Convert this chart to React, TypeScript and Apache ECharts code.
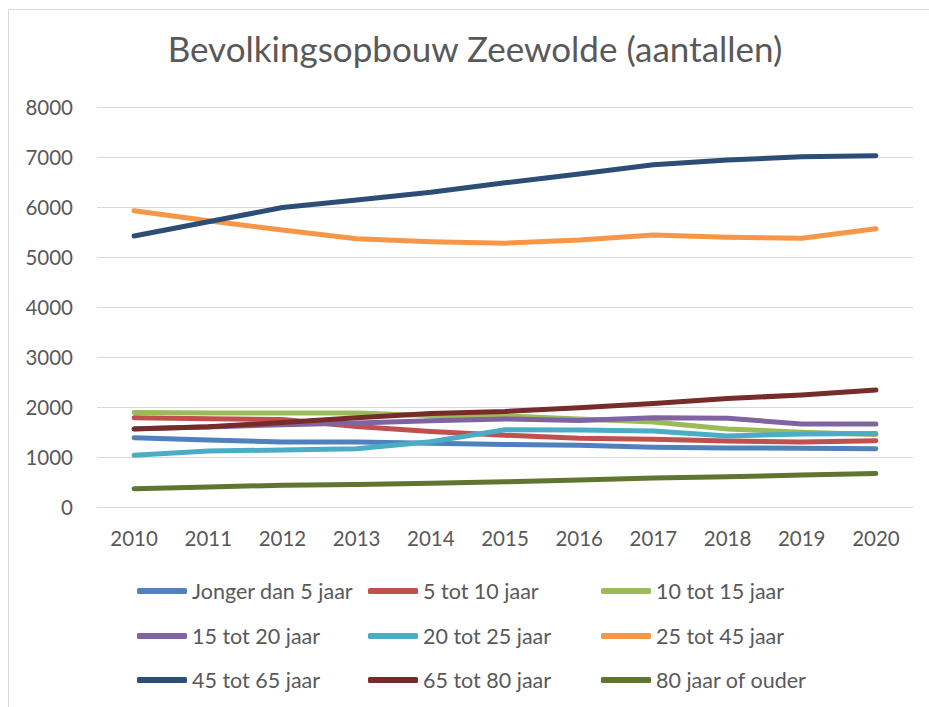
import React, { useEffect, useRef } from "react";
import * as echarts from "echarts";

const years = ["2010", "2011", "2012", "2013", "2014", "2015", "2016", "2017", "2018", "2019", "2020"];
const jongerDan5 = [1385, 1340, 1300, 1300, 1275, 1250, 1235, 1195, 1180, 1175, 1165];
const tot10 = [1785, 1765, 1750, 1610, 1510, 1435, 1375, 1355, 1320, 1300, 1325];
const tot15 = [1890, 1880, 1880, 1880, 1830, 1820, 1760, 1700, 1560, 1495, 1450];
const tot20 = [1565, 1600, 1645, 1680, 1725, 1760, 1730, 1785, 1775, 1660, 1660];
const tot25 = [1035, 1120, 1140, 1165, 1305, 1545, 1540, 1520, 1420, 1460, 1470];
const tot45 = [5925, 5725, 5540, 5365, 5305, 5275, 5340, 5440, 5395, 5375, 5565];
const tot65 = [5420, 5705, 5990, 6140, 6295, 6485, 6660, 6845, 6940, 7005, 7025];
const tot80 = [1560, 1605, 1690, 1785, 1870, 1910, 1985, 2070, 2170, 2240, 2340];
const ouder80 = [365, 400, 435, 450, 475, 505, 540, 580, 605, 640, 670];

const seriesNames = [
  "Jonger dan 5 jaar",
  "5 tot 10 jaar",
  "10 tot 15 jaar",
  "15 tot 20 jaar",
  "20 tot 25 jaar",
  "25 tot 45 jaar",
  "45 tot 65 jaar",
  "65 tot 80 jaar",
  "80 jaar of ouder",
];
const seriesData = [jongerDan5, tot10, tot15, tot20, tot25, tot45, tot65, tot80, ouder80];
const colors = ["#4F81BD", "#C0504D", "#9BBB59", "#8064A2", "#4BACC6", "#F79646", "#2C4D75", "#772C2A", "#5F7530"];
const yTicks = [0, 1000, 2000, 3000, 4000, 5000, 6000, 7000, 8000];

export default function App() {
  const ref = useRef<HTMLDivElement>(null);
  useEffect(() => {
    if (!ref.current) return;
    const chart = echarts.init(ref.current, null, { renderer: "svg" });
    const colLeft = [137, 368, 601];
    const rowMid = [591, 636, 680];
    const legends = seriesNames.map((name, i) => ({
      data: [name],
      left: colLeft[i % 3],
      top: rowMid[Math.floor(i / 3)] - 12,
      padding: 0,
      icon: "roundRect",
      itemWidth: 50,
      itemHeight: 6,
      selectedMode: false,
      textStyle: { fontFamily: "Lato", fontSize: 21.5, color: "#595959", lineHeight: 24 },
    }));
    chart.setOption({
      animation: false,
      color: colors,
      title: {
        text: "Bevolkingsopbouw Zeewolde (aantallen)",
        left: 475,
        textAlign: "center",
        top: 30,
        padding: 0,
        textStyle: { fontFamily: "Lato", fontSize: 35, fontWeight: "normal", color: "#595959" },
      },
      graphic: [
        {
          type: "rect",
          shape: { x: 8.5, y: 9.5, width: 1000, height: 800 },
          style: { fill: "none", stroke: "#D9D9D9", lineWidth: 1 },
          silent: true,
        },
      ],
      legend: legends,
      grid: { left: 97, right: 16, top: 107, bottom: 200, containLabel: false },
      xAxis: {
        type: "category",
        data: years,
        boundaryGap: true,
        axisLine: { show: true, lineStyle: { color: "#D9D9D9", width: 1 } },
        axisTick: { show: false },
        axisLabel: { fontFamily: "Lato", fontSize: 20.5, color: "#595959", margin: 20 },
      },
      yAxis: {
        type: "value",
        min: yTicks[0],
        max: yTicks[yTicks.length - 1],
        interval: 1000,
        axisLine: { show: false },
        axisTick: { show: false },
        splitLine: { lineStyle: { color: "#D9D9D9", width: 1 } },
        axisLabel: {
          fontFamily: "Lato",
          fontSize: 20.5,
          color: "#595959",
          margin: 24,
          formatter: (v: number) => String(v),
        },
      },
      series: seriesNames.map((name, i) => ({
        name,
        type: "line",
        data: seriesData[i],
        symbol: "none",
        showSymbol: false,
        lineStyle: { width: 5, color: colors[i], cap: "round", join: "round" },
        itemStyle: { color: colors[i] },
      })),
    });
    return () => chart.dispose();
  }, []);
  return <div ref={ref} style={{ width: 929, height: 707, position: "absolute", left: 0, top: 0 }} />;
}
